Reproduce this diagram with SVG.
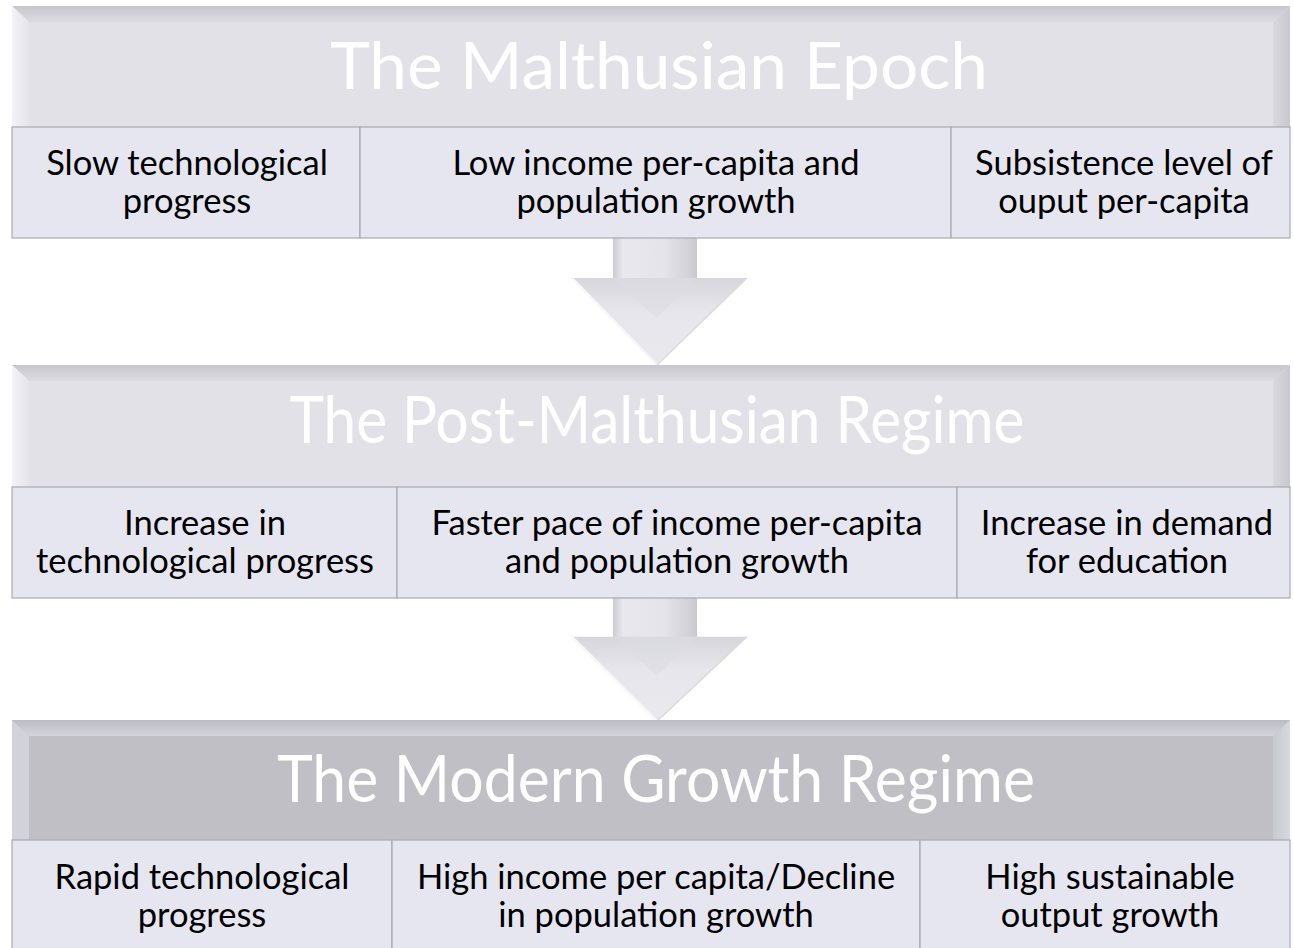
<svg xmlns="http://www.w3.org/2000/svg" width="1293" height="948" viewBox="0 0 1293 948">
<style>
.title{font-family:Lato,"Open Sans",sans-serif;font-weight:400;font-size:65px;fill:#ffffff;text-anchor:middle}
.cell{font-family:Lato,"Open Sans",sans-serif;font-size:34.5px;fill:#000000;text-anchor:middle}
.cellbox{fill:#e6e6f1;stroke:#a9a9b1;stroke-width:1.2}
.face1{fill:#e1e1e7}
.face3{fill:#c0bfc5}
</style>
<defs>
<linearGradient id="topBev" x1="0" y1="0" x2="0" y2="1">
<stop offset="0" stop-color="#c6c6cc"/><stop offset="1" stop-color="#dcdce2"/>
</linearGradient>
<linearGradient id="topBev3" x1="0" y1="0" x2="0" y2="1">
<stop offset="0" stop-color="#bcbcc3"/><stop offset="1" stop-color="#d4d4dc"/>
</linearGradient>
<linearGradient id="leftBev" x1="0" y1="0" x2="1" y2="0">
<stop offset="0" stop-color="#f2f2f7"/><stop offset="1" stop-color="#e4e4ea"/>
</linearGradient>
<linearGradient id="rightBev" x1="0" y1="0" x2="1" y2="0">
<stop offset="0" stop-color="#d8d8de"/><stop offset="1" stop-color="#c8c8ce"/>
</linearGradient>
<linearGradient id="rightBev3" x1="0" y1="0" x2="1" y2="0">
<stop offset="0" stop-color="#c8c8cf"/><stop offset="1" stop-color="#d8d8e0"/>
</linearGradient>
<linearGradient id="shaft" x1="0" y1="0" x2="1" y2="0">
<stop offset="0" stop-color="#cbcbd1"/><stop offset="0.12" stop-color="#e8e8ee"/><stop offset="0.6" stop-color="#e4e4ea"/><stop offset="0.9" stop-color="#d2d2d8"/><stop offset="1" stop-color="#c8c8ce"/>
</linearGradient>
<linearGradient id="head" x1="0" y1="0" x2="0" y2="1">
<stop offset="0" stop-color="#d6d6dc"/><stop offset="0.4" stop-color="#e6e6ec"/><stop offset="1" stop-color="#e9e9ee"/>
</linearGradient>
<g id="arrowShape">
<rect x="613" y="0" width="84" height="42" fill="url(#shaft)"/>
<polygon points="572,40 747,40 657,127" fill="url(#head)"/>
<polygon points="613,40 697,40 657,80" fill="#dcdce2" opacity="0.6"/>
<polyline points="572,40 657,127" fill="none" stroke="#f8f8fb" stroke-width="2.5"/>
<polyline points="747,40 657,127" fill="none" stroke="#dadae0" stroke-width="1.5"/>
</g>
</defs>

<g id="connectors">
<use href="#arrowShape" transform="translate(0,238)"/>
<use href="#arrowShape" transform="translate(0,598) scale(1,0.97)"/>
</g>

<g id="band1-header">
<rect x="12" y="6" width="1278" height="121" class="face1"/>
<polygon points="12,6 1290,6 1273,22 29,22" fill="url(#topBev)"/>
<polygon points="12,6 29,22 29,127 12,127" fill="url(#leftBev)"/>
<polygon points="1290,6 1273,22 1273,127 1290,127" fill="url(#rightBev)"/>
<text x="659" y="89" class="title" textLength="658" lengthAdjust="spacingAndGlyphs">The Malthusian Epoch</text>
</g>
<g id="band1-cells">
<rect x="12" y="127" width="348" height="111" class="cellbox"/>
<rect x="360" y="127" width="591" height="111" class="cellbox"/>
<rect x="951" y="127" width="339" height="111" class="cellbox"/>
<text class="cell" x="187" y="175">Slow technological</text>
<text class="cell" x="187" y="213">progress</text>
<text class="cell" x="656" y="175">Low income per-capita and</text>
<text class="cell" x="656" y="213">population growth</text>
<text class="cell" x="1124" y="175">Subsistence level of</text>
<text class="cell" x="1124" y="213">ouput per-capita</text>
</g>

<g id="band2-header">
<rect x="12" y="365" width="1278" height="122" class="face1"/>
<polygon points="12,365 1290,365 1273,381 29,381" fill="url(#topBev)"/>
<polygon points="12,365 29,381 29,487 12,487" fill="url(#leftBev)"/>
<polygon points="1290,365 1273,381 1273,487 1290,487" fill="url(#rightBev)"/>
<text x="657" y="443" class="title" textLength="735" lengthAdjust="spacingAndGlyphs">The Post-Malthusian Regime</text>
</g>
<g id="band2-cells">
<rect x="12" y="487" width="385" height="111" class="cellbox"/>
<rect x="397" y="487" width="560" height="111" class="cellbox"/>
<rect x="957" y="487" width="333" height="111" class="cellbox"/>
<text class="cell" x="205" y="535">Increase in</text>
<text class="cell" x="205" y="573">technological progress</text>
<text class="cell" x="677" y="535">Faster pace of income per-capita</text>
<text class="cell" x="677" y="573">and population growth</text>
<text class="cell" x="1127" y="535">Increase in demand</text>
<text class="cell" x="1127" y="573">for education</text>
</g>

<g id="band3-header">
<rect x="12" y="720" width="1278" height="120" class="face3"/>
<polygon points="12,720 1290,720 1273,736 29,736" fill="url(#topBev3)"/>
<polygon points="12,720 29,736 29,840 12,840" fill="#d2d2da"/>
<polygon points="1290,720 1273,736 1273,840 1290,840" fill="url(#rightBev3)"/>
<text x="656" y="802" class="title" textLength="758" lengthAdjust="spacingAndGlyphs">The Modern Growth Regime</text>
</g>
<g id="band3-cells">
<rect x="12" y="840" width="380" height="110" class="cellbox"/>
<rect x="392" y="840" width="528" height="110" class="cellbox"/>
<rect x="920" y="840" width="370" height="110" class="cellbox"/>
<text class="cell" x="202" y="889">Rapid technological</text>
<text class="cell" x="202" y="927">progress</text>
<text class="cell" x="656" y="889">High income per capita/Decline</text>
<text class="cell" x="656" y="927">in population growth</text>
<text class="cell" x="1110" y="889">High sustainable</text>
<text class="cell" x="1110" y="927">output growth</text>
</g>
</svg>
